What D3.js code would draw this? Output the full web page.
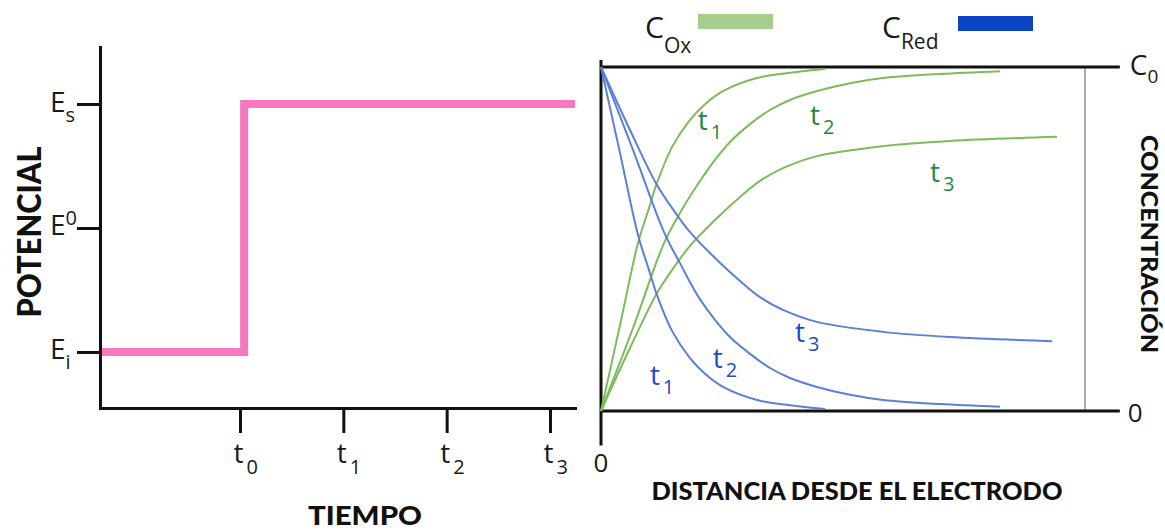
<!DOCTYPE html>
<html>
<head>
<meta charset="utf-8">
<script src="https://cdn.jsdelivr.net/npm/d3@7"></script>
<style>
  html, body { margin: 0; padding: 0; background: #fff; }
  svg { display: block; }
  .lbl { font-family: "Open Sans", sans-serif; fill: #1a1a1a; }
  .title { font-family: Lato, "DejaVu Sans", sans-serif; font-weight: 900; fill: #111; }
</style>
</head>
<body>
<div id="chart"></div>
<script>
// left panel: potential step vs time
const timeTicks = [0, 1, 2, 3];
const timeLabels = ['0', '1', '2', '3'];
const potTicks = [-1, 0, 1];
const potSubs = ['i', '0', 's'];
const potSubIsSup = [false, true, false];
const stepTime = [-1.355, 0.04, 3.242];
const stepPot = [-1, 1, 1];

// right panel: concentration profiles (distance 0-100, concentration as fraction of C0)
const oxT1X = [0, 3.93, 7.64, 9.71, 11.57, 14.67, 18.39, 21.49, 25.21, 32.23, 39.05, 46.28];
const oxT1Y = [0, 0.25, 0.488, 0.581, 0.663, 0.767, 0.846, 0.892, 0.93, 0.968, 0.983, 0.994];
const oxT2X = [0, 6.61, 13.02, 16.53, 20.04, 23.55, 26.86, 30.79, 34.92, 39.05, 44.63, 51.45, 58.26, 70.04, 82.44];
const oxT2Y = [0, 0.241, 0.488, 0.581, 0.66, 0.73, 0.785, 0.834, 0.875, 0.904, 0.93, 0.953, 0.968, 0.98, 0.988];
const oxT3X = [0, 5.99, 11.57, 15.29, 18.39, 23.55, 28.72, 32.85, 37.6, 44.63, 58.26, 72.11, 94.21];
const oxT3Y = [0, 0.183, 0.343, 0.422, 0.48, 0.555, 0.622, 0.669, 0.706, 0.741, 0.77, 0.785, 0.797];

const redT1X = [0, 3.93, 7.64, 9.71, 11.57, 14.67, 18.39, 21.49, 25.21, 32.23, 39.05, 46.28];
const redT1Y = [1, 0.75, 0.512, 0.419, 0.337, 0.233, 0.154, 0.108, 0.07, 0.032, 0.017, 0.006];
const redT2X = [0, 6.61, 13.02, 16.53, 20.04, 23.55, 26.86, 30.79, 34.92, 39.05, 44.63, 51.45, 58.26, 70.04, 82.44];
const redT2Y = [1, 0.759, 0.52, 0.424, 0.334, 0.265, 0.212, 0.166, 0.125, 0.096, 0.07, 0.047, 0.032, 0.02, 0.012];
const redT3X = [0, 5.99, 11.57, 15.29, 18.39, 23.55, 28.72, 32.85, 37.6, 44.63, 58.26, 72.11, 93.18];
const redT3Y = [1, 0.817, 0.657, 0.578, 0.52, 0.445, 0.378, 0.331, 0.294, 0.259, 0.23, 0.215, 0.203];

// curve annotations (data units)
const oxLabelX = [20.0, 43.2, 68.0];
const oxLabelY = [0.817, 0.831, 0.666];
const redLabelX = [10.1, 23.1, 40.1];
const redLabelY = [0.076, 0.125, 0.201];
const curveSubs = ['1', '2', '3'];

const green = '#7dbb5d', blue = '#5b80d6';
const greenText = '#23893f', blueText = '#1d4cc7';

const svg = d3.select('#chart').append('svg').attr('width', 1165).attr('height', 531);

// ---------- left panel ----------
const xTime = d3.scaleLinear().domain([-1.355, 3.242]).range([100, 575]);
const yPot = d3.scaleLinear().domain([-1.452, 1.46]).range([408, 47]);
const left = svg.append('g');

left.append('path')
  .datum(d3.range(stepTime.length))
  .attr('fill', 'none')
  .attr('stroke', '#f777be')
  .attr('stroke-width', 8)
  .attr('d', d3.line().x(i => xTime(stepTime[i])).y(i => yPot(stepPot[i])).curve(d3.curveStepAfter));

const yAxis = left.append('g')
  .attr('transform', `translate(${xTime.range()[0]},0)`)
  .call(d3.axisLeft(yPot).tickValues(potTicks).tickSize(23).tickSizeOuter(0).tickFormat(''));
const xAxis = left.append('g')
  .attr('transform', `translate(0,${yPot.range()[0]})`)
  .call(d3.axisBottom(xTime).tickValues(timeTicks).tickSize(25).tickSizeOuter(0).tickFormat(''));
[yAxis, xAxis].forEach(g => {
  g.select('.domain').attr('stroke', '#111').attr('stroke-width', 3).attr('stroke-linecap', 'square');
  g.selectAll('.tick line').attr('stroke', '#111').attr('stroke-width', 3);
});

yAxis.selectAll('.tick').each(function (d, i) {
  const t = d3.select(this).append('text').attr('class', 'lbl').attr('text-anchor', 'start')
    .attr('x', -50).attr('y', 7).attr('font-size', 28);
  t.append('tspan').text('E');
  t.append('tspan').attr('font-size', 20).attr('dy', potSubIsSup[i] ? -10 : 10).text(potSubs[i]);
});
xAxis.selectAll('.tick').each(function (d, i) {
  const t = d3.select(this).append('text').attr('class', 'lbl').attr('text-anchor', 'start')
    .attr('x', -7).attr('y', 55).attr('font-size', 28);
  t.append('tspan').text('t');
  t.append('tspan').attr('font-size', 20).attr('dx', 3).attr('dy', 11).text(timeLabels[i]);
});

left.append('text').attr('class', 'title')
  .attr('transform', 'translate(41,232) rotate(-90)')
  .attr('text-anchor', 'middle').attr('font-size', 32)
  .attr('textLength', 171).attr('lengthAdjust', 'spacingAndGlyphs')
  .text('POTENCIAL');
left.append('text').attr('class', 'title')
  .attr('x', 365).attr('y', 525)
  .attr('text-anchor', 'middle').attr('font-size', 27)
  .attr('textLength', 114).attr('lengthAdjust', 'spacingAndGlyphs')
  .text('TIEMPO');

// ---------- right panel ----------
const xDist = d3.scaleLinear().domain([0, 100]).range([601, 1085]);
const yConc = d3.scaleLinear().domain([0, 1]).range([411, 67]);
const right = svg.append('g');

right.append('line')
  .attr('x1', xDist(100)).attr('x2', xDist(100))
  .attr('y1', yConc(1)).attr('y2', yConc(0))
  .attr('stroke', '#adadad').attr('stroke-width', 2);

right.selectAll('line.hline').data([0, 1]).join('line')
  .attr('class', 'hline')
  .attr('x1', xDist(0)).attr('x2', xDist(107.2))
  .attr('y1', d => yConc(d)).attr('y2', d => yConc(d))
  .attr('stroke', '#111').attr('stroke-width', 3);
right.append('line')
  .attr('x1', xDist(0)).attr('x2', xDist(0))
  .attr('y1', yConc(1.02)).attr('y2', yConc(-0.1))
  .attr('stroke', '#111').attr('stroke-width', 3);

const series = [
  { x: oxT1X, y: oxT1Y, c: green },
  { x: oxT2X, y: oxT2Y, c: green },
  { x: oxT3X, y: oxT3Y, c: green },
  { x: redT1X, y: redT1Y, c: blue },
  { x: redT2X, y: redT2Y, c: blue },
  { x: redT3X, y: redT3Y, c: blue }
];
const curveLine = d3.line().curve(d3.curveCatmullRom.alpha(0.5));
right.selectAll('path.profile').data(series).join('path')
  .attr('class', 'profile')
  .attr('fill', 'none')
  .attr('stroke', d => d.c)
  .attr('stroke-width', 2)
  .attr('d', d => curveLine(d.x.map((v, i) => [xDist(v), yConc(d.y[i])])));

function curveLabel(x, y, sub, color) {
  const t = right.append('text').attr('class', 'lbl')
    .attr('x', xDist(x)).attr('y', yConc(y))
    .attr('font-size', 28).style('fill', color);
  t.append('tspan').text('t');
  t.append('tspan').attr('font-size', 20).attr('dx', 3).attr('dy', 9).text(sub);
}
oxLabelX.forEach((x, i) => curveLabel(x, oxLabelY[i], curveSubs[i], greenText));
redLabelX.forEach((x, i) => curveLabel(x, redLabelY[i], curveSubs[i], blueText));

// axis end labels
const c0 = right.append('text').attr('class', 'lbl')
  .attr('x', xDist(107.2) + 10).attr('y', yConc(1) + 8).attr('font-size', 28);
c0.append('tspan').text('C');
c0.append('tspan').attr('font-size', 19).attr('dy', 8).text('0');
right.append('text').attr('class', 'lbl')
  .attr('x', xDist(107.2) + 8).attr('y', yConc(0) + 11).attr('font-size', 26).text('0');
right.append('text').attr('class', 'lbl')
  .attr('x', xDist(0)).attr('y', 472).attr('text-anchor', 'middle').attr('font-size', 26).text('0');

right.append('text').attr('class', 'title')
  .attr('x', 857).attr('y', 500)
  .attr('text-anchor', 'middle').attr('font-size', 24)
  .attr('textLength', 411).attr('lengthAdjust', 'spacingAndGlyphs')
  .text('DISTANCIA DESDE EL ELECTRODO');
right.append('text').attr('class', 'title')
  .attr('transform', 'translate(1141,244) rotate(90)')
  .attr('text-anchor', 'middle').attr('font-size', 22)
  .attr('textLength', 218).attr('lengthAdjust', 'spacingAndGlyphs')
  .text('CONCENTRACIÓN');

// legend
const legendNames = ['Ox', 'Red'];
const legendColors = ['#a7cd8c', '#0a44c3'];
const legendX = [645, 882];
legendNames.forEach((n, i) => {
  const t = svg.append('text').attr('class', 'lbl')
    .attr('x', legendX[i]).attr('y', 38).attr('font-size', 30);
  t.append('tspan').text('C');
  t.append('tspan').attr('font-size', 21).attr('dy', i === 0 ? 15 : 11).text(n);
  svg.append('rect')
    .attr('x', legendX[i] + (i === 0 ? 53 : 76)).attr('y', i === 0 ? 14 : 16)
    .attr('width', 75).attr('height', 15)
    .attr('fill', legendColors[i]);
});
</script>
</body>
</html>
